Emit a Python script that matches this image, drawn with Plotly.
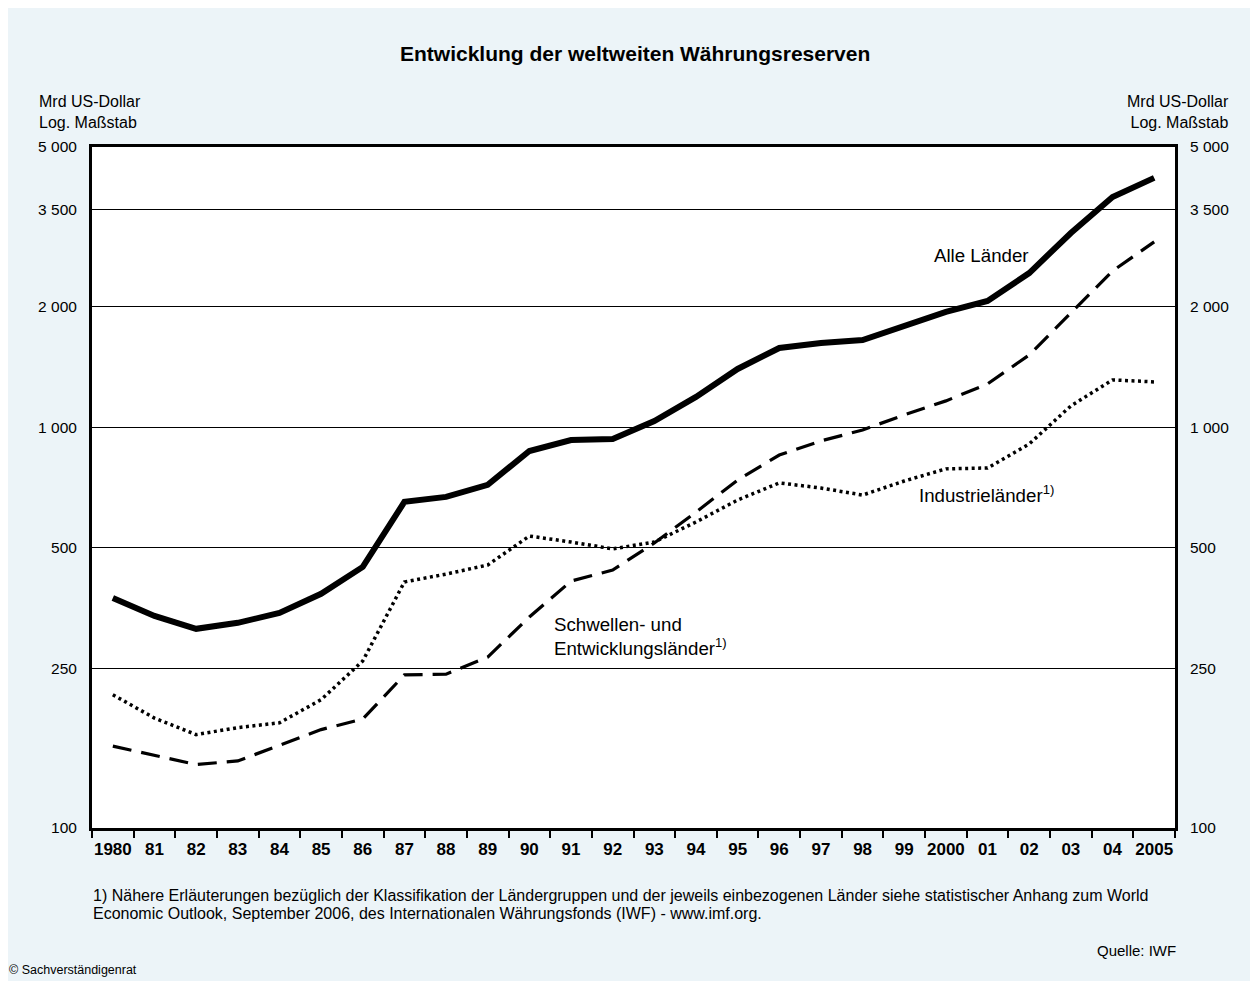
import math
import plotly.graph_objects as go

# ---- data (Mrd US-Dollar) ----
year_labels = ["1980", "81", "82", "83", "84", "85", "86", "87", "88", "89", "90",
               "91", "92", "93", "94", "95", "96", "97", "98", "99", "2000",
               "01", "02", "03", "04", "2005"]

alle_laender = [375, 338, 314, 325, 344, 384, 448, 651, 670, 718, 872,
                929, 934, 1036, 1190, 1397, 1576, 1622, 1650, 1789, 1939,
                2065, 2424, 3051, 3753, 4187]

schwellen_entwicklung = [160, 152, 144, 147, 161, 176, 187, 241, 242, 267, 336,
                         413, 440, 514, 614, 738, 852, 924, 984, 1073, 1163,
                         1282, 1514, 1927, 2453, 2899]

industrielaender = [215, 188, 171, 178, 183, 209, 261, 411, 430, 453, 535,
                    517, 497, 517, 580, 658, 726, 705, 677, 734, 787,
                    791, 908, 1130, 1312, 1297]

y_tickvals = [100, 250, 500, 1000, 2000, 3500, 5000]
y_ticktext = ["100", "250", "500", "1 000", "2 000", "3 500", "5 000"]

# ---- styling ----
FONT = "Liberation Sans, Arial, Helvetica, sans-serif"
BG = "#ecf4f8"
OFF = 8  # page body margin
W, H = 1258 - OFF, 981 - OFF
ML, MR, MT, MB = 92 - OFF, 83, 147 - OFF, 153
PW, PH = W - ML - MR, H - MT - MB


def px(xp):
    return (xp - OFF - ML) / PW


def py(yp):
    return (H - MB - (yp - OFF)) / PH


fig = go.Figure()

fig.add_trace(go.Scatter(x=year_labels, y=alle_laender, mode="lines",
                         line=dict(color="black", width=6),
                         name="Alle Länder", hoverinfo="x+y"))
fig.add_trace(go.Scatter(x=year_labels, y=schwellen_entwicklung, mode="lines",
                         line=dict(color="black", width=3.2, dash="19px,10px"),
                         name="Schwellen- und Entwicklungsländer", hoverinfo="x+y"))
fig.add_trace(go.Scatter(x=year_labels, y=industrielaender, mode="lines",
                         line=dict(color="black", width=3.5, dash="3px,3.5px"),
                         name="Industrieländer", hoverinfo="x+y"))
# invisible trace to carry the right-hand axis
fig.add_trace(go.Scatter(x=year_labels, y=alle_laender, mode="lines", yaxis="y2",
                         line=dict(width=0), opacity=0, showlegend=False,
                         hoverinfo="skip"))

yrange = [2, math.log10(5000)]

fig.update_layout(
    width=W, height=H,
    margin=dict(l=ML, r=MR, t=MT, b=MB),
    paper_bgcolor=BG,
    plot_bgcolor="white",
    showlegend=False,
    font=dict(family=FONT, color="black"),
    xaxis=dict(
        type="category",
        categoryorder="array", categoryarray=year_labels,
        range=[-0.5, len(year_labels) - 0.5],
        tickson="boundaries",
        ticks="outside", ticklen=7, tickwidth=1.5, tickcolor="black",
        tickangle=0, ticklabelstandoff=4,
        showgrid=False,
        showline=True, linewidth=3, linecolor="black", mirror=True,
        tickfont=dict(family=FONT, size=17, color="black", weight="bold"),
        zeroline=False,
    ),
    yaxis=dict(
        type="log", range=yrange,
        tickvals=y_tickvals, ticktext=y_ticktext,
        showgrid=True, gridcolor="black", gridwidth=1,
        showline=True, linewidth=3, linecolor="black", mirror=True,
        ticks="", ticklabelstandoff=9,
        tickfont=dict(family=FONT, size=15.5, color="black"),
        zeroline=False,
    ),
    yaxis2=dict(
        type="log", range=yrange, overlaying="y", side="right",
        tickvals=y_tickvals, ticktext=y_ticktext,
        showgrid=False, showline=False, ticks="", ticklabelstandoff=14,
        tickfont=dict(family=FONT, size=15.5, color="black"),
        zeroline=False,
    ),
)

annotations = [
    dict(text="<b>Entwicklung der weltweiten Währungsreserven</b>",
         x=px(634.5), y=py(53), xanchor="center", yanchor="middle",
         font=dict(size=21)),
    dict(text="Mrd US-Dollar<br>Log. Maßstab", x=px(37), y=py(112),
         xanchor="left", yanchor="middle", align="left", font=dict(size=16)),
    dict(text="Mrd US-Dollar<br>Log. Maßstab", x=px(1231), y=py(112),
         xanchor="right", yanchor="middle", align="right", font=dict(size=16)),
    dict(text="Alle Länder", x=px(932), y=py(255),
         xanchor="left", yanchor="middle", font=dict(size=18.7)),
    dict(text="Industrieländer<sup>1)</sup>", x=px(917), y=py(494),
         xanchor="left", yanchor="middle", font=dict(size=18.7)),
    dict(text="Schwellen- und<br>Entwicklungsländer<sup>1)</sup>", x=px(552), y=py(636),
         xanchor="left", yanchor="middle", align="left", font=dict(size=18.7)),
    dict(text="1) Nähere Erläuterungen bezüglich der Klassifikation der Ländergruppen und der jeweils "
              "einbezogenen Länder siehe statistischer Anhang zum World",
         x=px(91), y=py(895), xanchor="left", yanchor="middle", font=dict(size=16)),
    dict(text="Economic Outlook, September 2006, des Internationalen Währungsfonds (IWF) - www.imf.org.",
         x=px(91), y=py(913), xanchor="left", yanchor="middle", font=dict(size=16)),
    dict(text="Quelle: IWF", x=px(1178), y=py(950),
         xanchor="right", yanchor="middle", font=dict(size=15)),
    dict(text="© Sachverständigenrat", x=px(7), y=py(970),
         xanchor="left", yanchor="middle", font=dict(size=12.5)),
]
for a in annotations:
    a.update(xref="paper", yref="paper", showarrow=False)
fig.update_layout(annotations=annotations)

fig.write_html("out.html")
